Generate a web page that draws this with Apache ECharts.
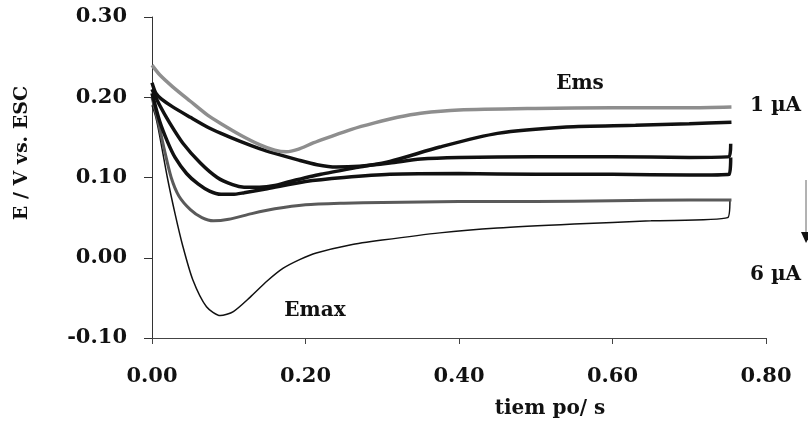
<!DOCTYPE html>
<html>
<head>
<meta charset="utf-8">
<script src="https://cdn.jsdelivr.net/npm/echarts@6/dist/echarts.min.js"></script>
<style>
html,body{margin:0;padding:0;background:#fff;}
#c{width:808px;height:427px;}
</style>
</head>
<body>
<div id="c"></div>
<script>
// tick labels
var xTicks = [0, 0.2, 0.4, 0.6, 0.8];
var yTicks = [-0.1, 0, 0.1, 0.2, 0.3];

// curve A (gray, 1 uA, Ems)
var tA = [0, 0.01, 0.027, 0.05, 0.072, 0.09, 0.115, 0.14, 0.16, 0.175, 0.19, 0.21, 0.23, 0.26, 0.29, 0.32, 0.35, 0.4, 0.5, 0.6, 0.7, 0.755];
var eA = [0.24, 0.228, 0.213, 0.195, 0.178, 0.167, 0.153, 0.141, 0.134, 0.132, 0.135, 0.143, 0.15, 0.16, 0.168, 0.175, 0.18, 0.184, 0.186, 0.187, 0.187, 0.188];
// curve B (black, shoulder)
var tB = [0, 0.005, 0.012, 0.027, 0.05, 0.072, 0.09, 0.115, 0.14, 0.16, 0.19, 0.215, 0.24, 0.27, 0.31, 0.35, 0.4, 0.5, 0.6, 0.7, 0.752, 0.754];
var eB = [0.218, 0.205, 0.198, 0.188, 0.175, 0.163, 0.155, 0.145, 0.136, 0.13, 0.122, 0.116, 0.113, 0.114, 0.118, 0.123, 0.125, 0.126, 0.126, 0.125, 0.126, 0.142];
// curve C (black, rising)
var tC = [0, 0.01, 0.023, 0.04, 0.063, 0.085, 0.105, 0.12, 0.14, 0.16, 0.18, 0.22, 0.27, 0.31, 0.375, 0.45, 0.54, 0.63, 0.7, 0.755];
var eC = [0.21, 0.19, 0.168, 0.143, 0.118, 0.1, 0.091, 0.088, 0.088, 0.09, 0.095, 0.104, 0.113, 0.12, 0.138, 0.155, 0.163, 0.165, 0.167, 0.169];
// curve D (black, flat ~0.10)
var tD = [0, 0.01, 0.02, 0.03, 0.045, 0.06, 0.075, 0.09, 0.105, 0.12, 0.15, 0.2, 0.25, 0.31, 0.4, 0.5, 0.6, 0.7, 0.752, 0.754];
var eD = [0.205, 0.17, 0.145, 0.125, 0.105, 0.092, 0.083, 0.079, 0.079, 0.081, 0.086, 0.095, 0.1, 0.104, 0.105, 0.104, 0.104, 0.103, 0.104, 0.125];
// curve E (gray, ~0.07)
var tE = [0, 0.008, 0.016, 0.025, 0.035, 0.05, 0.065, 0.08, 0.1, 0.13, 0.16, 0.2, 0.25, 0.3, 0.4, 0.5, 0.6, 0.7, 0.755];
var eE = [0.2, 0.17, 0.135, 0.1, 0.077, 0.06, 0.05, 0.046, 0.048, 0.055, 0.061, 0.066, 0.068, 0.069, 0.07, 0.07, 0.071, 0.072, 0.072];
// curve F (thin, 6 uA, Emax)
var tF = [0, 0.005, 0.01, 0.02, 0.03, 0.04, 0.053, 0.071, 0.089, 0.106, 0.128, 0.15, 0.171, 0.193, 0.214, 0.258, 0.3, 0.375, 0.45, 0.55, 0.65, 0.75, 0.753];
var eF = [0.19, 0.175, 0.152, 0.1, 0.055, 0.015, -0.027, -0.061, -0.072, -0.067, -0.049, -0.029, -0.013, -0.002, 0.006, 0.016, 0.022, 0.031, 0.037, 0.042, 0.046, 0.05, 0.072];

function pairs(t, e) { return t.map(function (v, i) { return [v, e[i]]; }); }

var FONT = 'DejaVu Serif';
var chart = echarts.init(document.getElementById('c'));

function ser(name, t, e, color, width) {
  return {
    name: name, type: 'line', data: pairs(t, e), showSymbol: false, symbol: 'none',
    smooth: 0.25, lineStyle: { color: color, width: width }, z: 2
  };
}

chart.setOption({
  animation: false,
  backgroundColor: '#ffffff',
  grid: { left: 152, right: 42, top: 17, bottom: 89 },
  xAxis: {
    type: 'value', min: xTicks[0], max: xTicks[xTicks.length - 1], interval: 0.2,
    axisLine: { show: true, onZero: false, lineStyle: { color: '#444', width: 1 } },
    axisTick: { show: true, length: 6, lineStyle: { color: '#444' } },
    splitLine: { show: false },
    axisLabel: {
      margin: 28, color: '#111', fontFamily: FONT, fontWeight: 'bold', fontSize: 21,
      formatter: function (v) { return v.toFixed(2); }
    }
  },
  yAxis: {
    type: 'value', min: yTicks[0], max: yTicks[yTicks.length - 1], interval: 0.1,
    axisLine: { show: true, lineStyle: { color: '#333', width: 1 } },
    axisTick: { show: true, length: 8, lineStyle: { color: '#333' } },
    splitLine: { show: false },
    axisLabel: {
      margin: 25, color: '#111', fontFamily: FONT, fontWeight: 'bold', fontSize: 21,
      formatter: function (v) { return v.toFixed(2); }
    }
  },
  series: [
    ser('F', tF, eF, '#111', 1.5),
    ser('E', tE, eE, '#5a5a5a', 3),
    ser('D', tD, eD, '#111', 3.5),
    ser('C', tC, eC, '#111', 3.5),
    ser('B', tB, eB, '#111', 3.5),
    ser('A', tA, eA, '#8e8e8e', 3.5)
  ],
  graphic: [
    { type: 'text', x: 22, y: 153, rotation: Math.PI / 2,
      style: { text: 'E / V vs. ESC', fill: '#111', font: 'bold 19px "DejaVu Serif"', align: 'center', verticalAlign: 'middle' } },
    { type: 'text', x: 550, y: 409,
      style: { text: 'tiem po/ s', fill: '#111', font: 'bold 20px "DejaVu Serif"', align: 'center', verticalAlign: 'middle' } },
    { type: 'text', x: 580, y: 84,
      style: { text: 'Ems', fill: '#111', font: 'bold 20px "DejaVu Serif"', align: 'center', verticalAlign: 'middle' } },
    { type: 'text', x: 315, y: 311,
      style: { text: 'Emax', fill: '#111', font: 'bold 20px "DejaVu Serif"', align: 'center', verticalAlign: 'middle' } },
    { type: 'text', x: 750, y: 106,
      style: { text: '1 µA', fill: '#111', font: 'bold 20px "DejaVu Serif"', align: 'left', verticalAlign: 'middle' } },
    { type: 'text', x: 750, y: 275,
      style: { text: '6 µA', fill: '#111', font: 'bold 20px "DejaVu Serif"', align: 'left', verticalAlign: 'middle' } },
    { type: 'line', shape: { x1: 806, y1: 180, x2: 806, y2: 234 }, style: { stroke: '#666', lineWidth: 1 } },
    { type: 'polygon', shape: { points: [[801, 232], [812, 232], [806, 243]] }, style: { fill: '#111' } }
  ]
});
</script>
</body>
</html>
